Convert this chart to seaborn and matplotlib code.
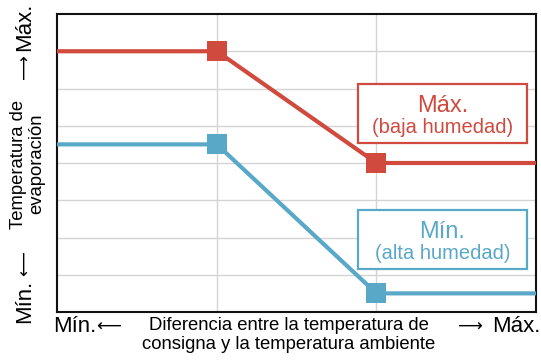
import matplotlib
matplotlib.use("Agg")
import matplotlib.pyplot as plt
import seaborn as sns
import pandas as pd
from matplotlib.patches import Rectangle

sns.set_theme(style="white")
plt.rcParams['font.family'] = ['Liberation Sans', 'DejaVu Sans']
plt.rcParams['text.color'] = 'black'

# Data
x_pos = [0, 1, 2, 3]
max_vals = [7, 7, 4, 4]      # Máx. (baja humedad)
min_vals = [4.5, 4.5, 0.5, 0.5]  # Mín. (alta humedad)
marker_idx = [1, 2]
series_names = ["Máx.", "Mín."]
series_sub = ["(baja humedad)", "(alta humedad)"]

RED = "#d04a3e"
BLUE = "#5aa8c8"

df = pd.concat([
    pd.DataFrame({"x": x_pos, "y": max_vals, "s": series_names[0]}),
    pd.DataFrame({"x": x_pos, "y": min_vals, "s": series_names[1]}),
])
df_m = df[df["x"].isin([x_pos[i] for i in marker_idx])]
pal = {series_names[0]: RED, series_names[1]: BLUE}

fig = plt.figure(figsize=(5.41, 3.63), dpi=100)
ax = fig.add_axes([57.3 / 541, 1 - 312 / 363, (536 - 57.3) / 541, (312 - 14) / 363])

sns.lineplot(data=df, x="x", y="y", hue="s", palette=pal, lw=3, ax=ax,
             legend=False, zorder=3)
sns.scatterplot(data=df_m, x="x", y="y", hue="s", palette=pal, marker="s",
                s=210, linewidth=0, ax=ax, legend=False, zorder=4)

ax.set_xlim(0, 3)
ax.set_ylim(0, 8)
ax.set_xticks([1, 2])
ax.set_yticks(range(1, 8))
ax.set_xticklabels([])
ax.set_yticklabels([])
ax.tick_params(length=0)
ax.grid(True, color="#d4d4d4", lw=1, zorder=0)
ax.set_axisbelow(True)
for sp in ax.spines.values():
    sp.set_color("#111111")
    sp.set_linewidth(1.5)
ax.set_xlabel("")
ax.set_ylabel("")

# Annotation boxes
for (y0, y1, c, name, sub) in [(4.545, 6.113, RED, series_names[0], series_sub[0]),
                                (1.154, 2.738, BLUE, series_names[1], series_sub[1])]:
    ax.add_patch(Rectangle((1.883, y0), 2.943 - 1.883, y1 - y0, fill=True,
                           facecolor="white", edgecolor=c, lw=1.6, zorder=5))
    xc = (1.883 + 2.943) / 2
    h = y1 - y0
    ax.text(xc, y0 + h * 0.62, name, color=c, fontsize=17, ha="center",
            va="center", zorder=6)
    ax.text(xc, y0 + h * 0.26, sub, color=c, fontsize=14.5, ha="center",
            va="center", zorder=6)

# Axis texts
fam = ['Liberation Sans', 'DejaVu Sans']
afam = ['DejaVu Sans']
W, H = 541, 363
fig.text(289 / W, 1 - 335 / H,
         "Diferencia entre la temperatura de\nconsigna y la temperatura ambiente",
         ha="center", va="center", fontsize=13.3, linespacing=1.1, family=fam)
# bottom-left
fig.text(53 / W, 1 - 326 / H, "Mín.", ha="left", va="center",
         fontsize=16, family=fam)
fig.text(109 / W, 1 - 327 / H, "⟵", ha="center", va="center",
         fontsize=12.5, family=afam)
# bottom-right
fig.text(470 / W, 1 - 327 / H, "⟶", ha="center", va="center",
         fontsize=12.5, family=afam)
fig.text(541 / W, 1 - 326 / H, "Máx.", ha="right", va="center",
         fontsize=16, family=fam)
# y label
fig.text(28 / W, 1 - 164 / H, "Temperatura de\nevaporación", rotation=90,
         ha="center", va="center", fontsize=13.3, linespacing=1.1,
         multialignment="center", family=fam)
# left-top
fig.text(25 / W, 1 - 3 / H, "Máx.", rotation=90, ha="center", va="top",
         fontsize=16, family=fam)
fig.text(25 / W, 1 - 67 / H, "⟶", rotation=90, ha="center", va="center",
         fontsize=12.5, family=afam)
# left-bottom
fig.text(25 / W, 1 - 323 / H, "Mín.", rotation=90, ha="center",
         va="bottom", fontsize=16, family=fam)
fig.text(25 / W, 1 - 264 / H, "⟵", rotation=90, ha="center", va="center",
         fontsize=12.5, family=afam)

fig.savefig("out.png", dpi=100)
